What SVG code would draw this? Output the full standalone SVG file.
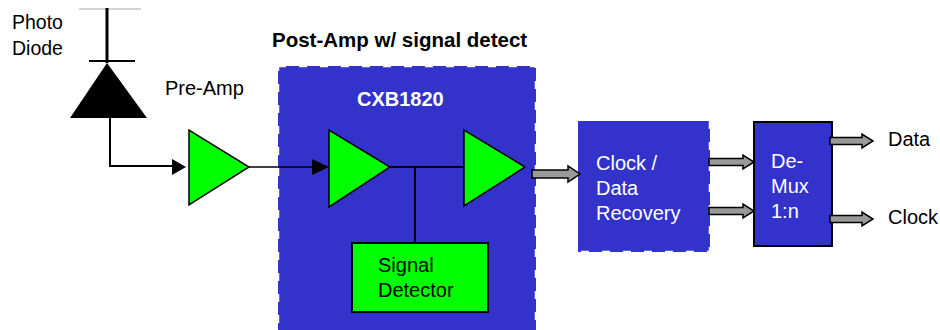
<svg xmlns="http://www.w3.org/2000/svg" width="940" height="330" viewBox="0 0 940 330">
<style>
text{font-family:"Liberation Sans",Arial,sans-serif;font-size:20px;fill:#000}
.w{fill:#fff}
.b{font-weight:bold}
.amp{fill:#00ff00;stroke:#000;stroke-width:1.5;stroke-linejoin:miter}
.dash{fill:#3333cc;stroke:#fff;stroke-width:2.5;stroke-dasharray:8 13}
.ln{fill:none;stroke:#000;stroke-width:2}
.garr{fill:#999;stroke:#000;stroke-width:1.5;stroke-linejoin:miter}
.ah{fill:#000}
</style>
<rect width="940" height="330" fill="#fff"/>
<g id="photodiode">
<line x1="79" y1="9" x2="141" y2="9" stroke="#aaa" stroke-width="1"/>
<line x1="107" y1="8" x2="107" y2="63" stroke="#000" stroke-width="3"/>
<line x1="89" y1="61" x2="135" y2="61" stroke="#000" stroke-width="2"/>
<polygon points="107,63 147,118 70,118" fill="#000"/>
<text x="12" y="29" style="font-size:19.5px">Photo</text>
<text x="12" y="55" style="font-size:19.5px">Diode</text>
</g>
<g id="preamp">
<polygon class="amp" points="189,130 189,205 249,167"/>
<text x="165" y="95">Pre-Amp</text>
</g>
<g id="postamp">
<text class="b" x="272" y="47" style="font-size:20.5px">Post-Amp w/ signal detect</text>
<rect class="dash" x="278" y="66" width="258" height="280"/>
<text class="w b" x="357" y="106">CXB1820</text>
</g>
<g id="amp1">
<polygon class="amp" points="329,130 329,207 390,167"/>
</g>
<g id="amp2">
<polygon class="amp" points="464,130 464,206 525,167"/>
</g>
<g id="signal-detector">
<rect x="352" y="243" width="136" height="69" fill="#00ff00" stroke="#000" stroke-width="2"/>
<text x="378" y="272">Signal</text>
<text x="378" y="297">Detector</text>
</g>
<g id="cdr">
<rect x="578" y="121" width="132" height="131" fill="#3333cc"/>
<path d="M710,121 V252 H578" fill="none" stroke="#fff" stroke-width="2.5" stroke-dasharray="8 13"/>
<text class="w" x="596" y="170">Clock /</text>
<text class="w" x="596" y="195">Data</text>
<text class="w" x="596" y="220">Recovery</text>
</g>
<g id="demux">
<rect x="754" y="122" width="78" height="124" fill="#3333cc" stroke="#000" stroke-width="2"/>
<text class="w" x="771" y="168">De-</text>
<text class="w" x="771" y="193">Mux</text>
<text class="w" x="771" y="218">1:n</text>
</g>
<g id="labels">
<text x="888" y="146">Data</text>
<text x="888" y="224">Clock</text>
</g>
<g id="connectors">
<polyline class="ln" points="110,118 110,166 174,166"/>
<polygon class="ah" points="172,159 186,167 172,175"/>
<line x1="249" y1="167" x2="314" y2="167" stroke="#000" stroke-width="1.5"/>
<polygon class="ah" points="312,159 329,167 312,175"/>
<line x1="390" y1="167" x2="464" y2="167" stroke="#000" stroke-width="2"/>
<line x1="415" y1="167" x2="415" y2="243" stroke="#000" stroke-width="2"/>
<polygon class="garr" points="532,170 568,170 568,166 580,174 568,182 568,178 532,178"/>
<polygon class="garr" points="709,158.5 743,158.5 743,155 754,162 743,169 743,165.5 709,165.5"/>
<polygon class="garr" points="709,207.5 743,207.5 743,204 754,211 743,218 743,214.5 709,214.5"/>
<polygon class="garr" points="830,137.5 862,137.5 862,134 873,141 862,148 862,144.5 830,144.5"/>
<polygon class="garr" points="830,215.5 862,215.5 862,212 873,219 862,226 862,222.5 830,222.5"/>
</g>
</svg>
